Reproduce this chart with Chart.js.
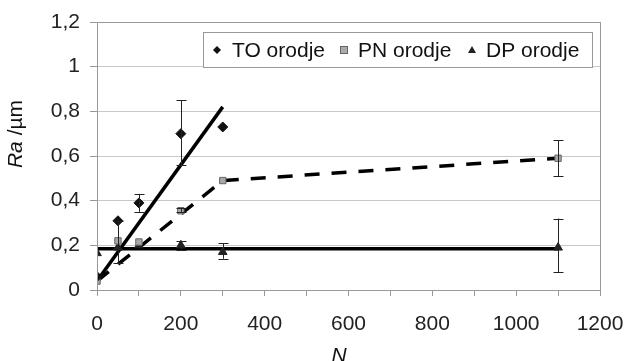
<!DOCTYPE html>
<html>
<head>
<meta charset="utf-8">
<script src="https://cdn.jsdelivr.net/npm/chart.js@4.4.1/dist/chart.umd.min.js"></script>
<style>
  html, body { margin: 0; padding: 0; background: #fff; }
  #wrap { width: 626px; height: 361px; }
</style>
</head>
<body>
<div id="wrap"><canvas id="grafico"></canvas></div>
<script>
// podatki odcitani s slike
var toN = [0, 50, 100, 200, 300];
var toRa = [0.06, 0.31, 0.39, 0.70, 0.73];
var toErrLo = [null, null, 0.35, 0.56, null];
var toErrHi = [null, null, 0.43, 0.85, null];

var pnN = [0, 50, 100, 200, 300, 1100];
var pnRa = [0.04, 0.22, 0.215, 0.355, 0.49, 0.59];
var pnErrLo = [null, 0.12, null, 0.35, null, 0.51];
var pnErrHi = [null, 0.31, null, 0.365, null, 0.67];

var dpN = [0, 50, 100, 200, 300, 1100];
var dpRa = [0.165, 0.19, 0.2, 0.2, 0.17, 0.19];
var dpErrLo = [null, null, null, 0.18, 0.14, 0.08];
var dpErrHi = [null, null, null, 0.22, 0.21, 0.32];

// trendne crte
var toTrendN = [0, 300];
var toTrendRa = [0.04, 0.82];
var pnTrendN = [0, 300, 1100];
var pnTrendRa = [0.04, 0.49, 0.59];
var dpTrendN = [0, 1100];
var dpTrendRa = [0.185, 0.185];

var labels = ['TO orodje', 'PN orodje', 'DP orodje'];

function pts(xs, ys) {
    return xs.map(function (x, i) { return { x: x, y: ys[i] }; });
}

var FONT = '"Liberation Sans", Arial, sans-serif';

var errorBars = {
    id: 'errorBars',
    afterDatasetsDraw: function (chart) {
        var ctx = chart.ctx;
        var xs = chart.scales.x, ys = chart.scales.y;
        var sets = [[toN, toErrLo, toErrHi], [pnN, pnErrLo, pnErrHi], [dpN, dpErrLo, dpErrHi]];
        ctx.save();
        ctx.strokeStyle = '#222';
        ctx.lineWidth = 1;
        sets.forEach(function (s) {
            s[0].forEach(function (n, i) {
                if (s[1][i] == null) return;
                var px = Math.round(xs.getPixelForValue(n)) + 0.5;
                var lo = ys.getPixelForValue(s[1][i]);
                var hi = ys.getPixelForValue(s[2][i]);
                ctx.beginPath();
                ctx.moveTo(px, lo); ctx.lineTo(px, hi);
                ctx.moveTo(px - 5, Math.round(lo) + 0.5); ctx.lineTo(px + 5, Math.round(lo) + 0.5);
                ctx.moveTo(px - 5, Math.round(hi) + 0.5); ctx.lineTo(px + 5, Math.round(hi) + 0.5);
                ctx.stroke();
            });
        });
        ctx.restore();
    }
};

var frameAndText = {
    id: 'frameAndText',
    afterDraw: function (chart) {
        var ctx = chart.ctx;
        var a = chart.chartArea;
        ctx.save();
        // okvir
        ctx.strokeStyle = '#999';
        ctx.lineWidth = 1;
        ctx.strokeRect(Math.round(a.left) + 0.5, Math.round(a.top) + 0.5, Math.round(a.right - a.left), Math.round(a.bottom - a.top));

        // legenda
        var lx = 203, ly = 32, lw = 389, lh = 35;
        ctx.fillStyle = '#fff';
        ctx.fillRect(lx, ly, lw, lh);
        ctx.strokeStyle = '#999';
        ctx.strokeRect(lx + 0.5, ly + 0.5, lw, lh);
        var mx = [217, 344, 472], tx = [232, 358, 486];
        var cy = 50;
        ctx.font = '21px ' + FONT;
        ctx.textBaseline = 'middle';
        ctx.textAlign = 'left';
        labels.forEach(function (t, i) {
            ctx.fillStyle = '#111';
            ctx.fillText(t, tx[i], cy + 1);
        });
        ctx.fillStyle = '#111';
        ctx.beginPath();
        ctx.moveTo(mx[0], cy - 4); ctx.lineTo(mx[0] + 4, cy); ctx.lineTo(mx[0], cy + 4); ctx.lineTo(mx[0] - 4, cy); ctx.closePath();
        ctx.fill();
        ctx.fillStyle = '#aaa'; ctx.strokeStyle = '#666';
        ctx.fillRect(mx[1] - 3, cy - 3, 6, 6);
        ctx.strokeRect(mx[1] - 3.5, cy - 3.5, 7, 7);
        ctx.fillStyle = '#222';
        ctx.beginPath();
        ctx.moveTo(mx[2], cy - 4); ctx.lineTo(mx[2] + 4, cy + 3); ctx.lineTo(mx[2] - 4, cy + 3); ctx.closePath();
        ctx.fill();

        // naslova osi
        ctx.fillStyle = '#111';
        ctx.font = 'italic 21px ' + FONT;
        ctx.textAlign = 'center';
        ctx.textBaseline = 'alphabetic';
        ctx.fillText('N', 339, 362);

        ctx.translate(22, 134);
        ctx.rotate(-Math.PI / 2);
        ctx.font = 'italic 21px ' + FONT;
        var w1 = ctx.measureText('Ra').width;
        ctx.font = '21px ' + FONT;
        var w2 = ctx.measureText(' /µm').width;
        var start = -(w1 + w2) / 2;
        ctx.textAlign = 'left';
        ctx.font = 'italic 21px ' + FONT;
        ctx.fillText('Ra', start, 0);
        ctx.font = '21px ' + FONT;
        ctx.fillText(' /µm', start + w1, 0);
        ctx.restore();
    }
};

var ctx = document.getElementById('grafico');
var myChart = new Chart(ctx, {
    type: 'scatter',
    data: {
        datasets: [{
            label: labels[0],
            data: pts(toN, toRa),
            pointStyle: 'rectRot',
            pointRadius: 5,
            backgroundColor: '#111',
            borderColor: '#111',
            borderWidth: 1,
            order: 0
        }, {
            label: labels[1],
            data: pts(pnN, pnRa),
            pointStyle: 'rect',
            pointRadius: 4.5,
            backgroundColor: '#a8a8a8',
            borderColor: '#666',
            borderWidth: 1,
            order: 0
        }, {
            label: labels[2],
            data: pts(dpN, dpRa),
            pointStyle: 'triangle',
            pointRadius: 5,
            backgroundColor: '#222',
            borderColor: '#222',
            borderWidth: 1,
            order: 0
        }, {
            data: pts(toTrendN, toTrendRa),
            showLine: true,
            pointRadius: 0,
            borderColor: '#000',
            borderWidth: 3.5,
            order: 1
        }, {
            data: pts(pnTrendN, pnTrendRa),
            showLine: true,
            pointRadius: 0,
            borderColor: '#000',
            borderWidth: 3.5,
            borderDash: [15, 12],
            order: 1
        }, {
            data: pts(dpTrendN, dpTrendRa),
            showLine: true,
            pointRadius: 0,
            borderColor: '#000',
            borderWidth: 3.5,
            order: 1
        }]
    },
    options: {
        responsive: true,
        maintainAspectRatio: false,
        animation: false,
        layout: { padding: { top: 22, right: 26, left: 0, bottom: 0 } },
        plugins: {
            legend: { display: false },
            tooltip: { enabled: false }
        },
        scales: {
            x: {
                type: 'linear',
                min: 0,
                max: 1200,
                afterFit: function (scale) {
                    scale.height = 71;
                    scale.paddingLeft = 0;
                    scale.paddingRight = 0;
                },
                ticks: {
                    stepSize: 100,
                    autoSkip: false,
                    maxRotation: 0,
                    padding: 16,
                    color: '#222',
                    font: { family: FONT, size: 21 },
                    callback: function (v) { return v % 200 === 0 ? v : ''; }
                },
                grid: { drawOnChartArea: false, tickLength: 6, color: '#999' },
                border: { color: '#999' }
            },
            y: {
                min: 0,
                max: 1.2,
                afterFit: function (scale) {
                    scale.width = 97;
                    scale.paddingTop = 0;
                    scale.paddingBottom = 0;
                },
                ticks: {
                    stepSize: 0.2,
                    padding: 10,
                    color: '#222',
                    font: { family: FONT, size: 21 },
                    callback: function (v) { return String(Math.round(v * 10) / 10).replace('.', ','); }
                },
                grid: { color: '#c8c8c8', borderDash: [2, 2], tickLength: 7, tickColor: '#999', tickBorderDash: [] },
                border: { color: '#999' }
            }
        }
    },
    plugins: [errorBars, frameAndText]
});
</script>
</body>
</html>
